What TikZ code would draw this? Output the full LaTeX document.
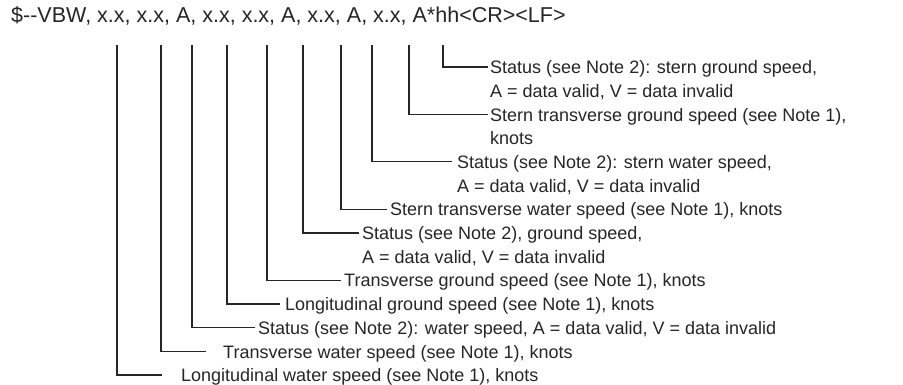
\documentclass[tikz,border=0pt]{standalone}
\usepackage{fontspec}
\setmainfont{Liberation Sans}
\usepackage{xcolor}
\usetikzlibrary{positioning}

\begin{document}
\begin{tikzpicture}[x=1pt,y=-1pt]
\tikzset{
  hd/.style={font=\fontsize{21.5}{24}\selectfont,text=black!85,inner sep=0pt,anchor=base west},
  lb/.style={font=\fontsize{18}{23.7}\selectfont,text=black!85,inner sep=0pt,anchor=north west,align=left},
  ld/.style={line width=1.3pt,draw=black!85}
}
\fill[white] (0,0) rectangle (903,384);
\useasboundingbox (0,0) rectangle (903,384);
\node[hd] (hdr) at (11,22) {\$-{}-VBW, x.x, x.x, A, x.x, x.x, A, x.x, A, x.x, A*hh<CR><LF>};
\coordinate (f1) at (117,45); \coordinate (f2) at (161,45); \coordinate (f3) at (192,45); \coordinate (f4) at (227,45); \coordinate (f5) at (267,45);
\coordinate (f6) at (303,45); \coordinate (f7) at (341,45); \coordinate (f8) at (372,45); \coordinate (f9) at (409,45); \coordinate (f10) at (443,45);
\node[lb] (t10) at (490,56.9) {\strut Status (see Note 2): stern ground speed,\\\strut A = data valid, V = data invalid};
\node[lb] (t9) at (490,104.3) {\strut Stern transverse ground speed (see Note 1),\\\strut knots};
\node[lb] (t8) at (457,151.7) {\strut Status (see Note 2): stern water speed,\\\strut A = data valid, V = data invalid};
\node[lb] (t7) at (390,199.1) {\strut Stern transverse water speed (see Note 1), knots};
\node[lb] (t6) at (362,222.8) {\strut Status (see Note 2), ground speed,\\\strut A = data valid, V = data invalid};
\node[lb] (t5) at (344,270.2) {\strut Transverse ground speed (see Note 1), knots};
\node[lb] (t4) at (285,293.9) {\strut Longitudinal ground speed (see Note 1), knots};
\node[lb] (t3) at (258,317.6) {\strut Status (see Note 2): water speed, A = data valid, V = data invalid};
\node[lb] (t2) at (223,341.3) {\strut Transverse water speed (see Note 1), knots};
\node[lb] (t1) at (181,365) {\strut Longitudinal water speed (see Note 1), knots};
\draw[ld] (f10) |- ([shift={(-2pt,-10.1pt)}]t10.north west); \draw[ld] (f9) |- ([shift={(-2pt,-10.1pt)}]t9.north west);
\draw[ld] (f8) |- ([shift={(-5pt,-10.1pt)}]t8.north west); \draw[ld] (f7) |- ([shift={(-3pt,-10.1pt)}]t7.north west);
\draw[ld] (f6) |- ([shift={(-3pt,-10.1pt)}]t6.north west); \draw[ld] (f5) |- ([shift={(-3pt,-10.1pt)}]t5.north west);
\draw[ld] (f4) |- ([shift={(-5pt,-10.1pt)}]t4.north west); \draw[ld] (f3) |- ([shift={(-3pt,-10.1pt)}]t3.north west);
\draw[ld] (f2) |- ([shift={(-17pt,-10.1pt)}]t2.north west); \draw[ld] (f1) |- ([shift={(-19pt,-10.1pt)}]t1.north west);
\end{tikzpicture}
\end{document}
